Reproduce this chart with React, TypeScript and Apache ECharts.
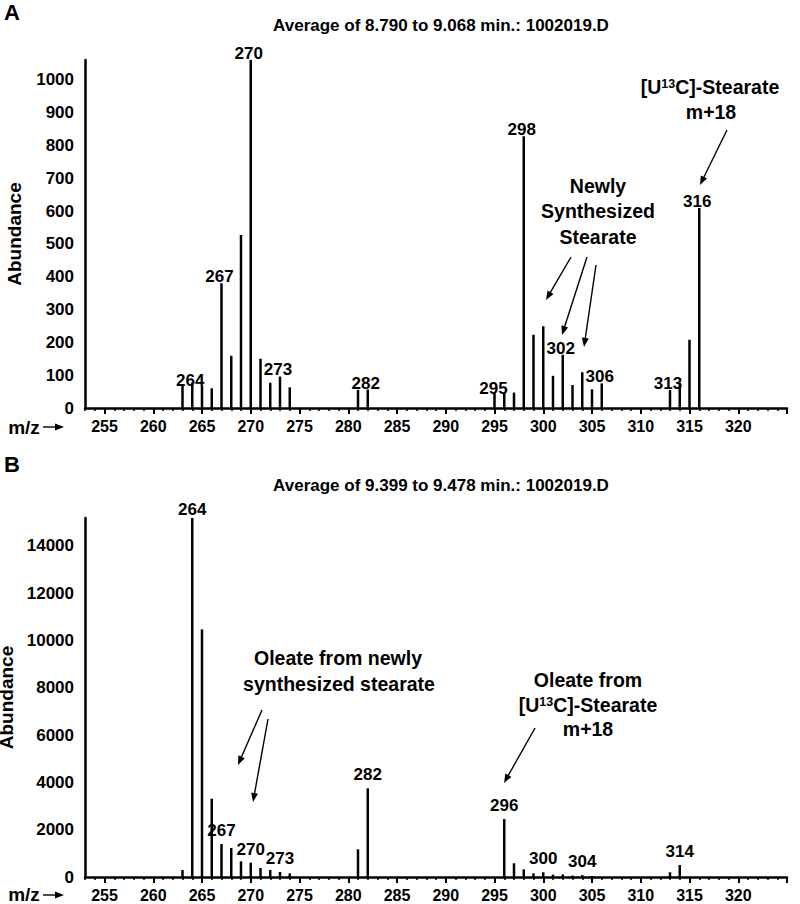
import React, { useEffect, useRef } from 'react';
import * as echarts from 'echarts';

const FONT = '"Liberation Sans", Arial, Helvetica, sans-serif';

// ---------- Data ----------
// Panel A: Average of 8.790 to 9.068 min.
const mzA = [263, 264, 265, 266, 267, 268, 269, 270, 271, 272, 273, 274, 281, 282, 295, 296, 297, 298, 299, 300, 301, 302, 303, 304, 305, 306, 313, 314, 315, 316];
const abundanceA = [67, 77, 67, 60, 380, 159, 527, 1060, 150, 77, 96, 63, 55, 56, 45, 45, 47, 828, 223, 249, 98, 162, 70, 109, 57, 75, 55, 77, 208, 609];
const labeledA = [264, 267, 270, 273, 282, 295, 298, 302, 306, 313, 316];

// Panel B: Average of 9.399 to 9.478 min.
const mzB = [263, 264, 265, 266, 267, 268, 269, 270, 271, 272, 273, 274, 281, 282, 296, 297, 298, 299, 300, 301, 302, 303, 304, 305, 313, 314];
const abundanceB = [296, 15180, 10470, 3310, 1395, 1226, 664, 606, 380, 296, 211, 155, 1170, 3750, 2450, 580, 325, 156, 200, 100, 110, 60, 80, 40, 200, 507];
const labeledB = [264, 267, 270, 273, 282, 296, 300, 304, 314];

// Axis ticks
const xTickLabels = [255, 260, 265, 270, 275, 280, 285, 290, 295, 300, 305, 310, 315, 320];
const xMajorTicks = [255, 260, 265, 270, 275, 280, 285, 290, 295, 300, 305, 310, 315, 320, 325];
const X_MIN = 253;
const X_MAX = 325;
const Y_MAX_A = 1060;
const Y_STEP_A = 100;
const Y_MAX_B = 15180;
const Y_STEP_B = 2000;

const titleA = 'Average of 8.790 to 9.068 min.: 1002019.D';
const titleB = 'Average of 9.399 to 9.478 min.: 1002019.D';

// ---------- helpers ----------
const minorTicks: number[] = [];
for (let v = X_MIN; v <= X_MAX; v++) minorTicks.push(v);

function txt(x: number, y: number, text: string, size: number, extra: any = {}) {
  return {
    type: 'text',
    x,
    y,
    style: {
      text,
      fontSize: size,
      fontWeight: 'bold',
      fontFamily: FONT,
      fill: '#000',
      align: 'center',
      textAlign: 'center',
      verticalAlign: 'middle',
      textVerticalAlign: 'middle',
      ...extra,
    },
  };
}

function supText(x: number, y: number, pre: string, sup: string, post: string, size: number) {
  return {
    type: 'text',
    x,
    y,
    style: {
      text: `{n|${pre}}{s|${sup}}{n|${post}}`,
      fontSize: size,
      fontWeight: 'bold',
      fontFamily: FONT,
      fill: '#000',
      align: 'center',
      textAlign: 'center',
      verticalAlign: 'middle',
      textVerticalAlign: 'middle',
      rich: {
        n: { fontSize: size, fontWeight: 'bold', fontFamily: FONT, fill: '#000', color: '#000' },
        s: { fontSize: 12.5, fontWeight: 'bold', fontFamily: FONT, fill: '#000', color: '#000', verticalAlign: 'top' },
      },
    },
  };
}

function arrow(x1: number, y1: number, x2: number, y2: number) {
  const dx = x2 - x1;
  const dy = y2 - y1;
  const len = Math.hypot(dx, dy);
  const ux = dx / len;
  const uy = dy / len;
  const hl = 9;
  const hw = 3.5;
  const bx = x2 - ux * hl;
  const by = y2 - uy * hl;
  return [
    { type: 'line', shape: { x1, y1, x2: bx + ux * 2, y2: by + uy * 2 }, style: { stroke: '#000', lineWidth: 1.4 } },
    {
      type: 'polygon',
      shape: { points: [[x2, y2], [bx - uy * hw, by + ux * hw], [bx + uy * hw, by - ux * hw]] },
      style: { fill: '#000' },
    },
  ];
}

function barData(mz: number[], ab: number[], labeled: number[], nudge: Record<number, number[]>) {
  return mz.map((m, i) => {
    const item: any = { value: [m, ab[i]] };
    if (labeled.includes(m)) {
      item.label = { show: true };
      if (nudge[m]) item.label.offset = nudge[m];
    }
    return item;
  });
}

function xAxes(gridIndex: number) {
  return [
    {
      type: 'value',
      gridIndex,
      position: 'bottom',
      min: X_MIN,
      max: X_MAX,
      axisLine: { show: true, onZero: false, lineStyle: { color: '#000', width: 2.5 } },
      axisTick: { show: true, customValues: xMajorTicks, length: 6, lineStyle: { color: '#000', width: 2 } },
      axisLabel: {
        show: true,
        customValues: xTickLabels,
        color: '#000',
        fontSize: 16,
        fontWeight: 'bold',
        fontFamily: FONT,
        margin: 10,
      },
      splitLine: { show: false },
    },
    {
      type: 'value',
      gridIndex,
      position: 'bottom',
      min: X_MIN,
      max: X_MAX,
      axisLine: { show: false, onZero: false },
      axisTick: { show: true, customValues: minorTicks, length: 3, lineStyle: { color: '#000', width: 1.5 } },
      axisLabel: { show: false },
      splitLine: { show: false },
    },
  ];
}

function yAxis(gridIndex: number, max: number, step: number) {
  return {
    type: 'value',
    gridIndex,
    min: 0,
    max,
    interval: step,
    name: 'Abundance',
    nameLocation: 'middle',
    nameRotate: 90,
    nameGap: 61,
    nameTextStyle: { color: '#000', fontSize: 19, fontWeight: 'bold', fontFamily: FONT },
    axisLine: { show: true, lineStyle: { color: '#000', width: 2.5 } },
    axisTick: { show: false },
    axisLabel: {
      color: '#000',
      fontSize: 17,
      fontWeight: 'bold',
      fontFamily: FONT,
      margin: 11,
      showMaxLabel: false,
      formatter: (v: number) => (v % step === 0 ? String(v) : ''),
    },
    splitLine: { show: false },
  };
}

const labelStyle = {
  color: '#000',
  fontSize: 17,
  fontWeight: 'bold',
  fontFamily: FONT,
  formatter: (p: any) => String(p.value[0]),
};

export default function App() {
  const ref = useRef<HTMLDivElement>(null);

  useEffect(() => {
    if (!ref.current) return;
    const chart = echarts.init(ref.current, undefined, { renderer: 'svg' });

    const graphics: any[] = [
      txt(12, 12, 'A', 22),
      txt(12, 464, 'B', 22),
      txt(441, 25, titleA, 17),
      txt(441, 485, titleB, 17),
      // m/z arrows
      txt(24, 427, 'm/z', 19),
      ...arrow(43, 427, 64, 427),
      txt(24, 894, 'm/z', 19),
      ...arrow(43, 895, 64, 895),
      // Panel A annotations
      supText(710, 87, '[U', '13', 'C]-Stearate', 19.5),
      txt(711, 112, 'm+18', 19.5),
      ...arrow(727, 130, 700, 185),
      txt(598, 186, 'Newly', 19.5),
      txt(598, 211, 'Synthesized', 19.5),
      txt(598, 237, 'Stearate', 19.5),
      ...arrow(571, 257, 546, 300),
      ...arrow(587, 257, 562, 335),
      ...arrow(596, 265, 584, 347),
      // Panel B annotations
      txt(338, 658, 'Oleate from newly', 19.5),
      txt(339, 684, 'synthesized stearate', 19.5),
      ...arrow(262, 710, 238, 765),
      ...arrow(268, 719, 253, 802),
      txt(588, 680, 'Oleate from', 19.5),
      supText(588, 705, '[U', '13', 'C]-Stearate', 19.5),
      txt(588, 729, 'm+18', 19.5),
      ...arrow(535, 728, 504, 783),
    ];

    chart.setOption({
      animation: false,
      backgroundColor: '#fff',
      grid: [
        { left: 85, top: 60, width: 702, height: 348, containLabel: false, outerBoundsMode: 'none' },
        { left: 85, top: 518, width: 702, height: 359, containLabel: false, outerBoundsMode: 'none' },
      ],
      xAxis: [...xAxes(0), ...xAxes(1)],
      yAxis: [yAxis(0, Y_MAX_A, Y_STEP_A), yAxis(1, Y_MAX_B, Y_STEP_B)],
      series: [
        {
          type: 'bar',
          xAxisIndex: 0,
          yAxisIndex: 0,
          barWidth: 2.5,
          itemStyle: { color: '#000' },
          label: { show: false, position: 'top', distance: 0, offset: [-2, 2], ...labelStyle },
          data: barData(mzA, abundanceA, labeledA, { 264: [-2, 6], 295: [-1, 4] }),
        },
        {
          type: 'bar',
          xAxisIndex: 2,
          yAxisIndex: 1,
          barWidth: 2.5,
          itemStyle: { color: '#000' },
          label: { show: false, position: 'top', distance: 5, offset: [0, 0], ...labelStyle },
          data: barData(mzB, abundanceB, labeledB, { 264: [0, 5] }),
        },
      ],
      graphic: graphics,
    });

    return () => chart.dispose();
  }, []);

  return (
    <div
      ref={ref}
      style={{ position: 'absolute', left: 0, top: 0, width: 800, height: 904, background: '#fff' }}
    />
  );
}
